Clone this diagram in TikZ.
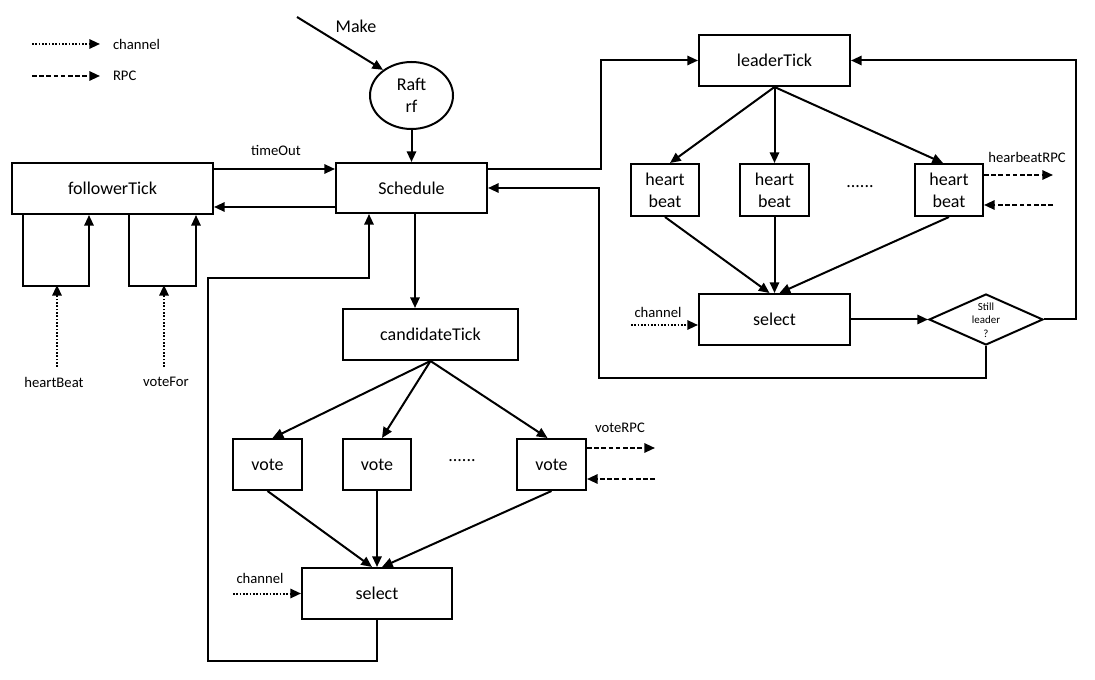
\documentclass[tikz,border=0pt]{standalone}
\usepackage{fontspec}
\setmainfont{Carlito}
\usetikzlibrary{arrows.meta,shapes.geometric,calc}
\begin{document}
\begin{tikzpicture}[x=0.75pt,y=-0.75pt,
  line width=1.5pt,
  tip/.style={-{Triangle[length=8pt,width=7pt]}},
  box/.style={draw, line width=1.5pt, inner sep=0pt, align=center, font=\fontsize{13.5}{16.5}\selectfont},
  lbl/.style={font=\fontsize{11}{13}\selectfont, inner sep=0pt},
  big/.style={font=\fontsize{13.5}{16.5}\selectfont, inner sep=0pt},
  dotl/.style={dash pattern=on 1.2pt off 1.3pt},
  dashl/.style={dash pattern=on 3.5pt off 1.9pt}]
\useasboundingbox (0,0) rectangle (1095,680);

% ---- legend
\coordinate (lg1) at (32,44);
\coordinate (lg1e) at (100,44);
\coordinate (lg2) at (32,76);
\coordinate (lg2e) at (100,76);
\node[lbl, anchor=west] (lgc) at (112,44) {channel};
\node[lbl, anchor=west] (lgr) at (112,76) {RPC};
\draw[dotl,tip] (lg1) -- (lg1e);
\draw[dashl,tip] (lg2) -- (lg2e);

% ---- nodes
\node[box, minimum width=150.75pt, minimum height=38.25pt] (ft) at (112.5,188.5) {followerTick};
\node[box, minimum width=113.25pt, minimum height=37.5pt] (sch) at (411.5,188) {Schedule};
\node[box, ellipse, minimum width=62.25pt, minimum height=50.25pt, font=\fontsize{13.5}{17}\selectfont] (raft) at (411.5,95.5) {Raft\\rf};
\node[box, minimum width=113.25pt, minimum height=38.25pt] (lt) at (774.5,60.5) {leaderTick};
\node[box, minimum width=51pt, minimum height=39pt] (h1) at (665,190) {heart\\beat};
\node[box, minimum width=51.75pt, minimum height=39pt] (h2) at (774.5,190) {heart\\beat};
\node[box, minimum width=51pt, minimum height=39pt] (h3) at (949,190) {heart\\beat};
\node[big] (hdots) at (860,187) {......};
\node[box, minimum width=113.25pt, minimum height=38.25pt] (sel2) at (774.5,319.5) {select};
\node[draw, diamond, minimum width=85.5pt, minimum height=38.25pt, inner sep=0pt] (dia) at (986,319.5) {};
\node[font=\fontsize{8.2}{10}\selectfont, align=center, inner sep=0pt] (diat) at (986,320) {Still\\leader\\?};
\node[box, minimum width=131.25pt, minimum height=38.25pt] (cand) at (430.5,334.5) {candidateTick};
\node[box, minimum width=51.75pt, minimum height=38.25pt] (v1) at (267.5,464.5) {vote};
\node[box, minimum width=51pt, minimum height=38.25pt] (v2) at (377,464.5) {vote};
\node[box, minimum width=51.75pt, minimum height=38.25pt] (v3) at (551.5,464.5) {vote};
\node[big] (vdots) at (462,461) {......};
\node[box, minimum width=112.5pt, minimum height=38.25pt] (sel1) at (377,593.5) {select};

% ---- labels
\node[big] (make) at (356,26) {Make};
\node[lbl] (tout) at (276,150) {timeOut};
\node[lbl] (hbl) at (54,382) {heartBeat};
\node[lbl] (vfl) at (166,382) {voteFor};
\node[lbl] (ch1l) at (260,578) {channel};
\node[lbl] (ch2l) at (658,312) {channel};
\node[lbl] (vrpc) at (620,428) {voteRPC};
\node[lbl] (hrpc) at (1027,157) {hearbeatRPC};

% ---- Make -> Raft -> Schedule
\coordinate (mk) at (297,17);
\draw[tip] (mk) -- (raft.138);
\draw[tip] (raft.south) -- (sch.north);

% ---- follower
\coordinate (s0) at ($(ft.north east)+(0,7)$);
\draw[tip] (s0) -- (s0 -| sch.west);
\coordinate (s1) at ($(sch.south west)+(0,-7)$);
\draw[tip] (s1) -- (s1 -| ft.east);
\draw[tip] ($(ft.south west)+(12,0)$) -- ++(0,71) -| ($(ft.south west)+(78,0)$);
\draw[tip] ($(ft.south west)+(118,0)$) -- ++(0,71) -| ($(ft.south west)+(185,0)$);
\coordinate (hbs) at (57,367);
\coordinate (lp1) at (57,285);
\coordinate (vfs) at (164,367);
\coordinate (lp2) at (164,285);
\draw[dotl,tip] (hbs) -- (lp1);
\draw[dotl,tip] (vfs) -- (lp2);

% ---- leader
\coordinate (c601) at (601,0);
\coordinate (s2) at ($(sch.north east)+(0,7)$);
\draw[tip] (s2) -- (s2 -| c601) |- (lt.west);
\draw[tip] (lt.south) -- ($(h1.north)+(5,0)$);
\draw[tip] (lt.south) -- (h2.north);
\draw[tip] (lt.south) -- ($(h3.north)+(-6,0)$);
\draw[tip] (h1.south) -- ($(sel2.north)+(-5,0)$);
\draw[tip] (h2.south) -- (sel2.north);
\draw[tip] (h3.south) -- ($(sel2.north)+(5,0)$);
\coordinate (hr1) at (1053,175);
\coordinate (hr2) at (1053,205);
\draw[dashl,tip] (hr1 -| h3.east) -- (hr1);
\draw[dashl,tip] (hr2) -- (hr2 -| h3.east);
\coordinate (ch2) at (631,325);
\draw[dotl,tip] (ch2) -- (ch2 -| sel2.west);
\draw[tip] (sel2.east) -- (dia.west);
\coordinate (rx) at (1076,0);
\draw[tip] (dia.east) -- (dia.east -| rx) |- (lt.east);
\coordinate (lb) at (599,378);
\draw[tip] (dia.south) |- (lb) |- (sch.east);

% ---- candidate
\coordinate (s4) at ($(sch.south)+(3.5,0)$);
\draw[tip] (s4) -- (s4 |- cand.north);
\draw[tip] (cand.south) -- ($(v1.north)+(5,0)$);
\draw[tip] (cand.south) -- ($(v2.north)+(5,0)$);
\draw[tip] (cand.south) -- ($(v3.north)+(-4,0)$);
\draw[tip] (v1.south) -- ($(sel1.north)+(-5,0)$);
\draw[tip] (v2.south) -- (sel1.north);
\draw[tip] (v3.south) -- ($(sel1.north)+(5,0)$);
\coordinate (vr1) at (655,448);
\coordinate (vr2) at (655,479);
\draw[dashl,tip] (vr1 -| v3.east) -- (vr1);
\draw[dashl,tip] (vr2) -- (vr2 -| v3.east);
\coordinate (ch1) at (233,593.5);
\draw[dotl,tip] (ch1) -- (sel1.west);
\coordinate (cl) at (208,661);
\coordinate (ct) at (208,278);
\draw[tip] (sel1.south) |- (cl) -- (ct) -| ($(sch.south west)+(34,0)$);
\end{tikzpicture}
\end{document}
